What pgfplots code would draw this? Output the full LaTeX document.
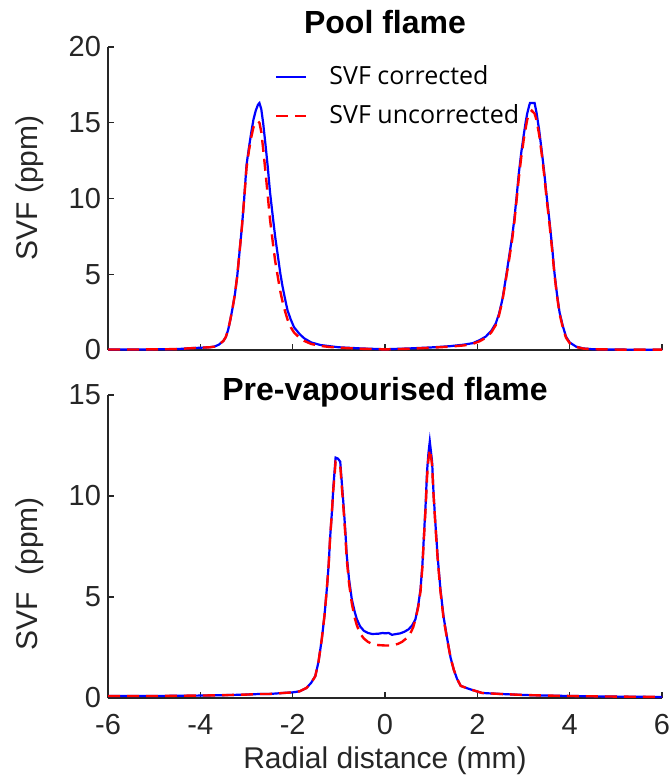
\documentclass[border=0pt]{standalone}
\usepackage{fontspec}
\setmainfont{Liberation Sans}
\newfontfamily\legfont{Open Sans}
\usepackage{pgfplots}
\pgfplotsset{compat=1.18}

\definecolor{axgray}{RGB}{38,38,38}

\pgfplotsset{
  svfaxis/.style={
    scale only axis, width=277pt, height=151.5pt,
    xmin=-6, xmax=6, ymin=0,
    axis x line*=bottom, axis y line*=left,
    axis line style={axgray, line width=0.6pt},
    every tick/.style={axgray, line width=0.6pt},
    major tick length=3pt,
    xtick={-6,-4,...,6},
    tick label style={font=\fontsize{14.5}{16}\selectfont, text=axgray},
    /pgf/number format/assume math mode=true,
    label style={font=\fontsize{15}{18}\selectfont, text=axgray},
    title style={font=\bfseries\fontsize{16}{19}\selectfont},
    clip=false,
  },
  corr/.style={blue, line width=1.1pt},
  uncorr/.style={red, line width=1.2pt, dash pattern=on 6pt off 3.5pt},
}

\begin{document}
\begin{tikzpicture}
\path[use as bounding box] (-54pt,-212.5pt) rectangle (281pt,175pt);

\begin{axis}[svfaxis, name=top, at={(0,0)}, anchor=south west,
  ymax=20, ytick={0,5,10,15,20}, xticklabels={},
  title={Pool flame}, title style={at={(0.5,1)}, anchor=base, yshift=0.5pt},
  ylabel={SVF (ppm)}, ylabel style={at={(axis description cs:-0.141,0.535)}, anchor=center},
  legend style={at={(0.29,0.965)}, anchor=north west, draw=none, fill=none,
    font=\legfont\fontsize{12.5}{14}\selectfont, row sep=4.5pt,
    /tikz/every odd column/.append style={column sep=9pt}},
  legend cell align=left,
  legend image code/.code={\draw[#1] (0pt,0pt) -- (15pt,0pt);},
]
\addplot[corr] coordinates {
(-6,0.03) (-5.5,0.03) (-5,0.04) (-4.5,0.06) (-4.2,0.12) (-4,0.15) (-3.8,0.18) (-3.7,0.22)
(-3.6,0.35) (-3.5,0.6) (-3.45,0.85) (-3.4,1.3) (-3.35,2.0) (-3.3,2.8) (-3.25,3.7) (-3.2,4.9)
(-3.15,6.5) (-3.1,8.1) (-3.05,10.0) (-3.0,12.2) (-2.95,13.3) (-2.9,14.3) (-2.85,15.2) (-2.8,15.8)
(-2.75,16.2) (-2.72,16.3) (-2.68,15.9) (-2.64,15.0) (-2.59,13.6) (-2.54,12.1) (-2.49,10.4)
(-2.43,8.8) (-2.38,7.5) (-2.32,6.2) (-2.27,5.1) (-2.22,4.2) (-2.16,3.3) (-2.11,2.6) (-2.04,2.0)
(-1.97,1.5) (-1.85,1.05) (-1.75,0.77) (-1.6,0.5) (-1.4,0.33) (-1.2,0.25) (-1,0.18) (-0.5,0.1)
(0,0.05) (0.5,0.1) (1,0.17) (1.4,0.25) (1.7,0.35) (1.9,0.45) (2.05,0.65) (2.18,0.88) (2.3,1.25)
(2.4,1.76) (2.47,2.4) (2.54,3.3) (2.61,4.6) (2.69,6.2) (2.75,7.4) (2.8,8.6) (2.85,10.1)
(2.9,11.7) (2.95,13.0) (3.01,14.3) (3.05,15.1) (3.08,15.6) (3.12,16.1) (3.14,16.3) (3.24,16.3)
(3.28,15.7) (3.34,14.5) (3.4,13.0) (3.45,11.7) (3.5,10.2) (3.56,8.6) (3.62,6.8) (3.67,5.1)
(3.72,3.8) (3.78,2.5) (3.85,1.6) (3.92,0.88) (4.0,0.5) (4.14,0.22) (4.3,0.1) (4.5,0.05)
(5,0.03) (5.5,0.02) (6,0.02)
};
\addlegendentry{SVF corrected}
\addplot[uncorr] coordinates {
(-6,0.03) (-5.5,0.03) (-5,0.04) (-4.5,0.06) (-4.2,0.12) (-4,0.15) (-3.8,0.18) (-3.7,0.22)
(-3.6,0.35) (-3.5,0.6) (-3.45,0.85) (-3.4,1.3) (-3.35,2.0) (-3.3,2.8) (-3.25,3.7) (-3.2,4.9)
(-3.15,6.5) (-3.1,8.1) (-3.05,10.0) (-3.0,12.0) (-2.95,13.1) (-2.9,14.0) (-2.85,14.7) (-2.8,15.0)
(-2.75,15.1) (-2.72,15.0) (-2.68,14.4) (-2.64,13.3) (-2.59,11.8) (-2.54,10.2) (-2.49,8.6)
(-2.43,7.1) (-2.38,5.9) (-2.32,4.8) (-2.27,3.9) (-2.22,3.2) (-2.16,2.5) (-2.11,2.0) (-2.04,1.5)
(-1.97,1.15) (-1.85,0.8) (-1.75,0.6) (-1.6,0.4) (-1.4,0.27) (-1.2,0.2) (-1,0.15) (-0.5,0.08)
(0,0.04) (0.5,0.08) (1,0.15) (1.4,0.22) (1.7,0.3) (1.9,0.4) (2.05,0.58) (2.18,0.8) (2.3,1.15)
(2.4,1.65) (2.47,2.3) (2.54,3.2) (2.61,4.5) (2.69,6.0) (2.75,7.2) (2.8,8.4) (2.85,9.9)
(2.9,11.4) (2.95,12.7) (3.01,14.0) (3.05,14.7) (3.08,15.2) (3.12,15.6) (3.18,15.8) (3.24,15.6)
(3.28,15.2) (3.34,14.2) (3.4,12.8) (3.45,11.5) (3.5,10.0) (3.56,8.4) (3.62,6.6) (3.67,5.0)
(3.72,3.7) (3.78,2.4) (3.85,1.5) (3.92,0.82) (4.0,0.45) (4.14,0.2) (4.3,0.09) (4.5,0.05)
(5,0.03) (5.5,0.02) (6,0.02)
};
\addlegendentry{SVF uncorrected}
\end{axis}

\begin{axis}[svfaxis, name=bot, at={(0,-22.5pt)}, anchor=north west,
  ymax=15, ytick={0,5,10,15},
  xticklabel style={yshift=-4.5pt},
  title={Pre-vapourised flame}, title style={at={(0.5,1)}, anchor=base, yshift=-8.5pt},
  ylabel={SVF\ \ (ppm)}, ylabel style={at={(axis description cs:-0.141,0.41)}, anchor=center},
  xlabel={Radial distance (mm)}, xlabel style={at={(axis description cs:0.5,0)}, anchor=base, yshift=-35pt},
]
\addplot[corr] coordinates {
(-6,0.1) (-5,0.1) (-4,0.12) (-3.5,0.14) (-3,0.17) (-2.7,0.2) (-2.5,0.2) (-2.2,0.25) (-2,0.28)
(-1.85,0.33) (-1.7,0.5) (-1.6,0.75) (-1.51,1.08) (-1.44,1.8) (-1.37,2.9) (-1.31,4.1) (-1.26,5.4)
(-1.22,6.6) (-1.19,7.9) (-1.15,9.2) (-1.12,10.4) (-1.09,11.3) (-1.07,11.9) (-1.02,11.85)
(-0.97,11.7) (-0.94,10.8) (-0.9,9.6) (-0.86,8.3) (-0.83,7.1) (-0.78,5.9) (-0.72,4.9) (-0.66,4.3)
(-0.61,3.9) (-0.54,3.55) (-0.46,3.33) (-0.37,3.22) (-0.28,3.17) (-0.15,3.18) (-0.05,3.22)
(0,3.2) (0.08,3.22) (0.15,3.13) (0.25,3.17) (0.33,3.2) (0.42,3.28) (0.51,3.4) (0.59,3.6)
(0.66,3.9) (0.72,4.6) (0.77,5.4) (0.81,6.6) (0.84,7.9) (0.88,9.6) (0.91,11.2) (0.94,12.1)
(0.97,12.7) (1.0,12.1) (1.02,11.7) (1.05,10.2) (1.09,8.7) (1.14,7.0) (1.2,5.4) (1.27,4.0)
(1.35,2.9) (1.42,2.0) (1.49,1.4) (1.56,0.95) (1.64,0.6) (1.82,0.45) (2.1,0.25) (2.5,0.2)
(3,0.15) (3.5,0.12) (4,0.1) (5,0.07) (6,0.05)
};
\addplot[uncorr] coordinates {
(-6,0.1) (-5,0.1) (-4,0.12) (-3.5,0.14) (-3,0.17) (-2.7,0.2) (-2.5,0.2) (-2.2,0.25) (-2,0.28)
(-1.85,0.33) (-1.7,0.5) (-1.6,0.75) (-1.51,1.08) (-1.44,1.8) (-1.37,2.9) (-1.31,4.1) (-1.26,5.4)
(-1.22,6.6) (-1.19,7.9) (-1.15,9.2) (-1.12,10.3) (-1.09,11.1) (-1.07,11.7) (-1.02,11.65)
(-0.97,11.5) (-0.94,10.6) (-0.9,9.4) (-0.86,8.1) (-0.83,6.9) (-0.78,5.7) (-0.72,4.7) (-0.66,4.0)
(-0.61,3.6) (-0.54,3.2) (-0.46,2.95) (-0.37,2.78) (-0.28,2.68) (-0.15,2.62) (0,2.6)
(0.15,2.6) (0.28,2.68) (0.37,2.78) (0.46,2.95) (0.54,3.15) (0.61,3.5) (0.66,3.9) (0.72,4.5)
(0.77,5.3) (0.81,6.5) (0.84,7.8) (0.88,9.4) (0.91,10.9) (0.94,11.8) (0.97,12.3) (1.0,11.9)
(1.02,11.5) (1.05,10.1) (1.09,8.6) (1.14,6.9) (1.2,5.3) (1.27,3.9) (1.35,2.85) (1.42,2.0)
(1.49,1.4) (1.56,0.95) (1.64,0.6) (1.82,0.45) (2.1,0.25) (2.5,0.2) (3,0.15) (3.5,0.12)
(4,0.1) (5,0.07) (6,0.05)
};
\end{axis}
\end{tikzpicture}
\end{document}
